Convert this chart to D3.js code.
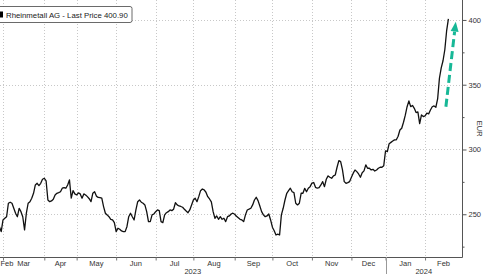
<!DOCTYPE html>
<html>
<head>
<meta charset="utf-8">
<script src="https://cdn.jsdelivr.net/npm/d3@7"></script>
<style>
  body { margin: 0; background: #fff; }
  svg { display: block; font-family: "Liberation Sans", Arial, sans-serif; }
</style>
</head>
<body>
<svg width="485" height="276"></svg>
<script>
// trading-day index (0 = 1 Mar 2023) and Rheinmetall close in EUR
const days = [-2,-1,0,1,2,3,4,5,6,7,8,9,10,11,12,13,14,15,16,17,18,19,20,21,22,23,24,25,26,27,28,29,30,31,32,33,34,35,36,37,38,39,40,
  41,42,43,44,45,46,47,48,49,50,51,52,53,54,55,56,57,58,59,60,61,62,63,64,65,66,67,68,69,70,71,72,73,74,75,76,77,78,79,80,
  81,82,83,84,85,86,87,88,89,90,91,92,93,94,95,96,97,98,99,100,101,102,103,104,105,106,107,108,109,110,111,112,113,114,115,116,117,118,119,120,
  121,122,123,124,125,126,127,128,129,130,131,132,133,134,135,136,137,138,139,140,141,142,143,144,145,146,147,148,149,150,151,152,153,154,155,156,157,158,159,160,
  161,162,163,164,165,166,167,168,169,170,171,172,173,174,175,176,177,178,179,180,181,182,183,184,185,186,187,188,189,190,191,192,193,194,195,196,197,198,199,200,
  201,202,203,204,205,206,207,208,209,210,211,212,213,214,215,216,217,218,219,220,221,222,223,224,225,226,227,228,229,230,231,232,233,234,235,236,237,238,239,240,
  241,242,243,244,245,246,247,248];
const prices = [240.4,236.6,245.6,246.9,248.1,258.5,259.3,258.5,254.6,250.8,248.1,254.6,252.0,248.1,237.9,250.8,258.5,259.7,262.4,266.2,272.6,273.9,272.1,273.9,277.0,277.8,275.7,261.0,259.7,260.3,261.6,264.9,266.2,266.7,267.4,270.1,270.5,270.1,272.6,276.5,262.4,268.2,265.7,
  264.9,266.5,265.7,262.4,265.7,264.9,263.6,262.0,259.7,266.2,267.4,264.0,263.0,262.8,262.4,255.9,250.8,249.5,248.1,246.1,245.6,243.5,236.6,239.2,238.4,237.1,236.6,236.6,240.4,248.1,250.8,248.1,245.6,253.3,259.7,261.0,259.3,258.5,257.2,252.0,
  244.3,244.3,249.5,250.2,252.0,253.3,252.8,244.3,243.5,249.5,251.2,252.0,253.3,252.8,253.9,258.9,257.2,256.4,256.0,255.4,253.9,252.5,251.2,253.3,257.2,261.0,262.4,259.7,263.6,268.2,269.5,268.8,267.0,263.6,261.8,259.5,252.0,246.9,248.7,246.1,
  248.1,246.1,246.9,244.3,248.1,248.7,250.2,250.8,250.0,248.5,247.3,246.1,245.6,244.3,249.5,253.3,253.9,254.6,257.2,261.0,263.1,260.5,256.4,252.0,249.5,248.1,248.7,250.2,245.6,240.0,237.3,234.0,234.6,234.0,249.5,254.6,261.0,266.2,268.2,270.1,
  267.4,266.7,258.5,257.2,258.5,266.2,266.2,270.0,267.4,270.1,271.3,274.0,274.5,270.8,270.1,270.5,272.6,275.2,271.3,277.0,279.6,278.6,277.8,279.6,280.3,286.3,291.4,290.6,284.5,275.2,273.9,274.4,275.2,278.6,281.7,284.2,282.9,281.1,278.6,282.1,
  283.5,288.1,285.5,285.5,284.2,284.7,283.4,284.2,285.5,286.3,286.3,287.5,299.0,298.3,304.5,305.5,306.5,307.4,307.5,310.2,315.0,316.4,321.0,326.5,333.0,337.5,333.1,334.0,331.8,328.5,329.0,320.0,326.7,325.4,325.9,328.0,327.5,330.5,333.0,333.6,
  332.6,339.0,355.0,363.0,368.5,377.0,391.5,400.9];

// first trading day of each month (same index)
const monthStarts = [-20,0,23,41,63,85,106,129,150,172,194,213,235,256];
const monthLabels = ["Feb","Mar","Apr","May","Jun","Jul","Aug","Sep","Oct","Nov","Dec","Jan","Feb"];
const yearStarts = [-40,213,400];
const yearLabels = ["2023","2024"];

const yTicks = [250,300,350,400];
const yMinorTicks = [225,275,325,375];

const legendText = "Rheinmetall AG - Last Price 400.90";
const arrowFrom = [246.6, 333];
const arrowTo = [252.1, 398.7];

const svg = d3.select("svg");
const plotW = 462, plotH = 257;

const x = d3.scaleLinear().domain([-1.67, 255.57]).range([0, plotW]);
const y = d3.scaleLinear().domain([217, 415.4]).range([plotH, 0]);

// clip for the plot area
svg.append("defs").append("clipPath").attr("id", "plot")
  .append("rect").attr("width", plotW).attr("height", plotH);

const grid = svg.append("g").attr("stroke", "#c8c8c8").attr("stroke-width", 1)
  .attr("stroke-dasharray", "1,2");

// horizontal dotted grid
grid.selectAll(".hg").data(yTicks).join("line")
  .attr("x1", 0).attr("x2", plotW)
  .attr("y1", d => Math.round(y(d)) + 0.5).attr("y2", d => Math.round(y(d)) + 0.5);

// vertical dotted grid at month starts
grid.selectAll(".vg").data(monthStarts.filter(d => x(d) > 0 && x(d) < plotW)).join("line")
  .attr("x1", d => Math.round(x(d)) + 0.5).attr("x2", d => Math.round(x(d)) + 0.5)
  .attr("y1", 0).attr("y2", plotH);

// price line
const line = d3.line().x((d, i) => x(d)).y((d, i) => y(prices[i]));
svg.append("path")
  .datum(days)
  .attr("clip-path", "url(#plot)")
  .attr("d", line)
  .attr("fill", "none")
  .attr("stroke", "#111")
  .attr("stroke-width", 1.3)
  .attr("stroke-linejoin", "round");

// axis lines
svg.append("line").attr("x1", 0).attr("x2", plotW + 0.5).attr("y1", plotH + 0.5).attr("y2", plotH + 0.5)
  .attr("stroke", "#555");
svg.append("line").attr("x1", plotW + 0.5).attr("x2", plotW + 0.5).attr("y1", 0).attr("y2", plotH + 0.5)
  .attr("stroke", "#555");

// right axis
const yAxis = svg.append("g").attr("transform", `translate(${plotW + 0.5},0)`)
  .call(d3.axisRight(y).tickValues(yTicks).tickSize(4).tickPadding(2));
yAxis.select(".domain").remove();
yAxis.selectAll("line").attr("stroke", "#555");
yAxis.selectAll("text").attr("font-size", 7.5).attr("fill", "#333")
  .attr("font-family", "Liberation Sans, Arial, sans-serif");

const yMinor = svg.append("g").attr("transform", `translate(${plotW + 0.5},0)`)
  .call(d3.axisRight(y).tickValues(yMinorTicks).tickSize(2).tickFormat(""));
yMinor.select(".domain").remove();
yMinor.selectAll("line").attr("stroke", "#555");

// y axis title
svg.append("text")
  .attr("transform", `translate(477,${y(316)}) rotate(90)`)
  .attr("text-anchor", "middle")
  .attr("font-size", 7.5).attr("fill", "#333")
  .text("EUR");

// bottom axis ticks at month boundaries
const xAxis = svg.append("g").attr("transform", `translate(0,${plotH + 0.5})`)
  .call(d3.axisBottom(x).tickValues(monthStarts.filter(d => x(d) > 0 && x(d) < plotW)).tickSize(3).tickFormat(""));
xAxis.select(".domain").remove();
xAxis.selectAll("line").attr("stroke", "#777");

// month labels centred in the visible part of each month, kept inside the chart
const clampX = v => Math.max(0, Math.min(plotW, v));
svg.append("g").selectAll("text").data(monthLabels).join("text")
  .attr("x", (d, i) => Math.max(7, (clampX(x(monthStarts[i])) + clampX(x(monthStarts[i + 1]))) / 2))
  .attr("y", 266)
  .attr("text-anchor", "middle")
  .attr("font-size", 7.5).attr("fill", "#333")
  .text(d => d);

// year labels and separator
svg.append("g").selectAll("text").data(yearLabels).join("text")
  .attr("x", (d, i) => (clampX(x(yearStarts[i])) + clampX(x(yearStarts[i + 1]))) / 2)
  .attr("y", 274)
  .attr("text-anchor", "middle")
  .attr("font-size", 7.5).attr("fill", "#333")
  .text(d => d);
svg.append("line")
  .attr("x1", Math.round(x(yearStarts[1])) + 0.5).attr("x2", Math.round(x(yearStarts[1])) + 0.5)
  .attr("y1", plotH).attr("y2", 274)
  .attr("stroke", "#999");

// teal dashed arrow
const ax0 = x(arrowFrom[0]), ay0 = y(arrowFrom[1]);
const ax1 = x(arrowTo[0]), ay1 = y(arrowTo[1]);
const ang = Math.atan2(ay1 - ay0, ax1 - ax0);
const headLen = 10, headHalf = 4;
const bx = ax1 - headLen * Math.cos(ang), by = ay1 - headLen * Math.sin(ang);
svg.append("line")
  .attr("x1", ax0).attr("y1", ay0).attr("x2", bx).attr("y2", by)
  .attr("stroke", "#17b897").attr("stroke-width", 3)
  .attr("stroke-dasharray", "8,4");
svg.append("path")
  .attr("d", `M${ax1},${ay1}L${bx + headHalf * Math.sin(ang)},${by - headHalf * Math.cos(ang)}L${bx - headHalf * Math.sin(ang)},${by + headHalf * Math.cos(ang)}Z`)
  .attr("fill", "#17b897");

// legend box
const legend = svg.append("g");
legend.append("rect")
  .attr("x", -5).attr("y", 6.5).attr("width", 137).attr("height", 16).attr("rx", 2)
  .attr("fill", "#fff").attr("stroke", "#444").attr("stroke-width", 0.8);
legend.append("rect")
  .attr("x", -3).attr("y", 11.5).attr("width", 6).attr("height", 6).attr("fill", "#000");
legend.append("text")
  .attr("x", 6).attr("y", 17.8)
  .attr("font-size", 7.8).attr("fill", "#222")
  .text(legendText);
</script>
</body>
</html>
